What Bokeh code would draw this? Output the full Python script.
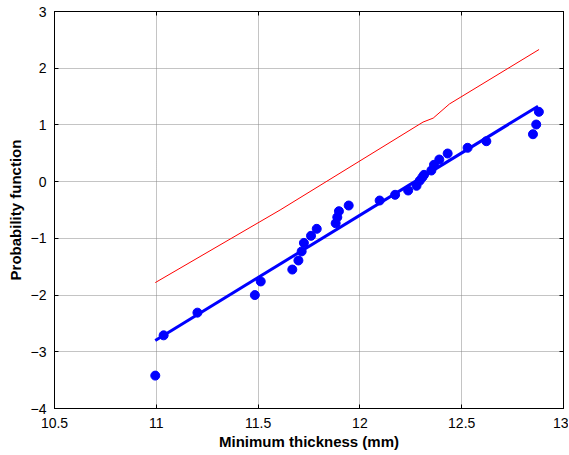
from bokeh.plotting import figure
from bokeh.models import LinearAxis, FixedTicker, Range1d
from bokeh.embed import file_html
from bokeh.resources import INLINE

# Data
thickness = [10.995, 11.036, 11.202, 11.484, 11.513, 11.668, 11.698, 11.714, 11.725, 11.760,
             11.788, 11.881, 11.889, 11.897, 11.945, 12.097, 12.173, 12.237, 12.278, 12.294,
             12.307, 12.315, 12.351, 12.364, 12.390, 12.431, 12.529, 12.621, 12.850, 12.866,
             12.879]
prob = [-3.42, -2.71, -2.31, -2.00, -1.76, -1.55, -1.39, -1.23, -1.08, -0.955,
        -0.832, -0.733, -0.627, -0.521, -0.421, -0.333, -0.232, -0.156, -0.073, 0.017,
        0.078, 0.12, 0.196, 0.297, 0.39, 0.496, 0.597, 0.713, 0.836, 1.007,
        1.231]

fit_x = [10.995, 12.875]
fit_y = [-2.80, 1.33]

ref_x = [10.995, 11.608, 12.31, 12.36, 12.44, 12.88]
ref_y = [-1.78, -0.50, 1.05, 1.12, 1.37, 2.33]

x_ticks = [10.5, 11, 11.5, 12, 12.5, 13]
y_ticks = [-4, -3, -2, -1, 0, 1, 2, 3]

FONT = "Liberation Sans"

p = figure(width=568, height=454, output_backend="svg", toolbar_location=None,
           x_range=Range1d(10.5, 13), y_range=Range1d(-4, 3),
           min_border_left=54, min_border_right=5, min_border_top=11, min_border_bottom=46)

p.background_fill_color = "white"
p.border_fill_color = "white"
p.outline_line_color = "black"
p.outline_line_width = 1

for ax in (p.xaxis[0], p.yaxis[0]):
    ax.major_tick_in = 4
    ax.major_tick_out = 0
    ax.minor_tick_in = 0
    ax.minor_tick_out = 0
    ax.major_label_text_font = FONT
    ax.major_label_text_font_size = "14px"
    ax.major_label_text_color = "black"
    ax.axis_label_text_font = FONT
    ax.axis_label_text_font_style = "bold"
    ax.axis_label_text_color = "black"
    ax.axis_line_color = "black"

p.xaxis[0].ticker = FixedTicker(ticks=x_ticks)
p.yaxis[0].ticker = FixedTicker(ticks=y_ticks)
p.xaxis[0].axis_label = "Minimum thickness (mm)"
p.yaxis[0].axis_label = "Probability function"
p.xaxis[0].axis_label_text_font_size = "15px"
p.yaxis[0].axis_label_text_font_size = "15px"
p.xaxis[0].major_label_standoff = 9
p.yaxis[0].major_label_standoff = 8
p.xaxis[0].axis_label_standoff = 2
p.yaxis[0].axis_label_standoff = 4

for loc, tick in (("right", y_ticks), ("above", x_ticks)):
    a = LinearAxis(ticker=FixedTicker(ticks=tick), major_tick_in=4, major_tick_out=0,
                   minor_tick_in=0, minor_tick_out=0, major_label_text_font_size="0px",
                   major_label_standoff=0, axis_line_color="black")
    p.add_layout(a, loc)

p.xgrid.ticker = FixedTicker(ticks=x_ticks)
p.ygrid.ticker = FixedTicker(ticks=y_ticks)
p.grid.grid_line_color = "#888888"
p.grid.grid_line_dash = "1 1"
p.grid.grid_line_width = 1

p.line(ref_x, ref_y, color="red", line_width=1)
p.line(fit_x, fit_y, color="blue", line_width=3)
p.scatter(thickness, prob, size=9, color="blue", line_color="blue")

open("out.html", "w").write(file_html(p, INLINE))
